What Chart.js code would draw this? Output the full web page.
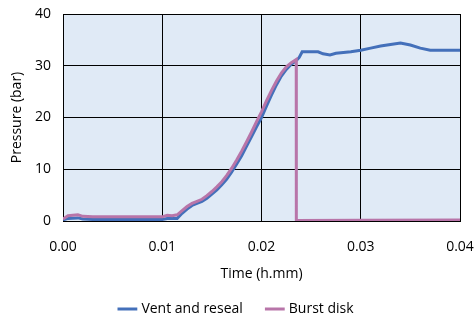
<!DOCTYPE html>
<html>
<head>
<meta charset="utf-8">
<script src="https://cdn.jsdelivr.net/npm/chart.js@4"></script>
<style>
  html, body { margin: 0; padding: 0; background: #fff; }
  #wrap { width: 474px; height: 316px; }
</style>
</head>
<body>
<div id="wrap"><canvas id="chart"></canvas></div>
<script>
const ventTime = [0, 0.0005, 0.0015, 0.002, 0.003, 0.010, 0.0105, 0.011, 0.0115, 0.012, 0.0125, 0.013, 0.0135, 0.014, 0.0145, 0.015, 0.0155, 0.016, 0.0165, 0.017, 0.0175, 0.018, 0.0185, 0.019, 0.0195, 0.020, 0.0205, 0.021, 0.0215, 0.022, 0.0225, 0.023, 0.0235, 0.0238, 0.0241, 0.025, 0.0257, 0.0262, 0.0269, 0.0275, 0.028, 0.029, 0.030, 0.031, 0.032, 0.033, 0.034, 0.035, 0.036, 0.037, 0.038, 0.040];
const ventPressure = [0.2, 0.5, 0.6, 0.4, 0.3, 0.3, 0.5, 0.5, 0.5, 1.5, 2.3, 3.0, 3.4, 3.8, 4.4, 5.2, 6.0, 7.0, 8.1, 9.5, 11.0, 12.6, 14.5, 16.3, 18.2, 20.0, 22.2, 24.3, 26.3, 28.0, 29.3, 30.3, 31.0, 31.6, 32.7, 32.7, 32.7, 32.3, 32.1, 32.4, 32.5, 32.7, 33.0, 33.4, 33.8, 34.1, 34.4, 34.0, 33.4, 33.0, 33.0, 33.0];

const burstTime = [0, 0.0005, 0.0015, 0.002, 0.003, 0.010, 0.0105, 0.011, 0.0115, 0.012, 0.0125, 0.013, 0.0135, 0.014, 0.0145, 0.015, 0.0155, 0.016, 0.0165, 0.017, 0.0175, 0.018, 0.0185, 0.019, 0.0195, 0.020, 0.0205, 0.021, 0.0215, 0.022, 0.0225, 0.023, 0.0235, 0.02351, 0.030, 0.040];
const burstPressure = [0.4, 1.0, 1.2, 0.9, 0.8, 0.8, 1.1, 1.0, 1.2, 2.0, 2.8, 3.4, 3.8, 4.2, 4.9, 5.7, 6.6, 7.6, 8.8, 10.2, 11.8, 13.5, 15.3, 17.2, 19.2, 21.1, 23.2, 25.2, 27.0, 28.6, 29.8, 30.6, 31.2, 0.1, 0.15, 0.2];

const seriesNames = ['Vent and reseal', 'Burst disk'];
const xTicks = [0, 0.01, 0.02, 0.03, 0.04];
const yTicks = [0, 10, 20, 30, 40];

const toPoints = (xs, ys) => xs.map((x, i) => ({ x: x, y: ys[i] }));

const plotBg = {
    id: 'plotBg',
    beforeDraw(chart) {
        const a = chart.chartArea;
        const ctx = chart.ctx;
        ctx.save();
        ctx.fillStyle = '#e0eaf6';
        ctx.fillRect(a.left, a.top, a.right - a.left, a.bottom - a.top);
        ctx.restore();
    }
};

Chart.defaults.font.family = '"Open Sans", sans-serif';
Chart.defaults.font.size = 14;
Chart.defaults.color = '#000';

new Chart(document.getElementById('chart'), {
    type: 'line',
    data: {
        datasets: [{
            label: seriesNames[0],
            data: toPoints(ventTime, ventPressure),
            borderColor: '#4470ba',
            backgroundColor: '#4470ba',
            borderWidth: 3,
            pointRadius: 0,
            order: 2
        }, {
            label: seriesNames[1],
            data: toPoints(burstTime, burstPressure),
            borderColor: '#b875a9',
            backgroundColor: '#b875a9',
            borderWidth: 3,
            pointRadius: 0,
            order: 1
        }]
    },
    plugins: [plotBg],
    options: {
        responsive: true,
        maintainAspectRatio: false,
        animation: false,
        layout: { padding: 0 },
        scales: {
            x: {
                type: 'linear',
                min: 0,
                max: 0.04,
                afterBuildTicks: s => { s.ticks = xTicks.map(v => ({ value: v })); },
                afterFit: s => { s.height = 56; s.paddingRight = 14; s.paddingLeft = 0; },
                ticks: {
                    padding: 18,
                    callback: v => v.toFixed(2)
                },
                grid: { color: '#000', drawTicks: false },
                border: { color: '#000', width: 1 },
                title: { display: true, text: 'Time (h.mm)', padding: { top: 0, bottom: -5 } }
            },
            y: {
                min: 0,
                max: 40,
                afterBuildTicks: s => { s.ticks = yTicks.map(v => ({ value: v })); },
                afterFit: s => { s.width = 63; s.paddingTop = 14; },
                ticks: { padding: 12 },
                grid: { color: '#000', drawTicks: false },
                border: { color: '#000', width: 1 },
                title: { display: true, text: 'Pressure (bar)', padding: { top: 9, bottom: 0 } }
            }
        },
        plugins: {
            legend: {
                position: 'bottom',
                maxHeight: 39,
                labels: {
                    usePointStyle: true,
                    pointStyle: 'line',
                    boxWidth: 30,
                    padding: 25,
                    sort: (a, b) => a.datasetIndex - b.datasetIndex
                }
            },
            tooltip: { enabled: false }
        }
    }
});
</script>
</body>
</html>
